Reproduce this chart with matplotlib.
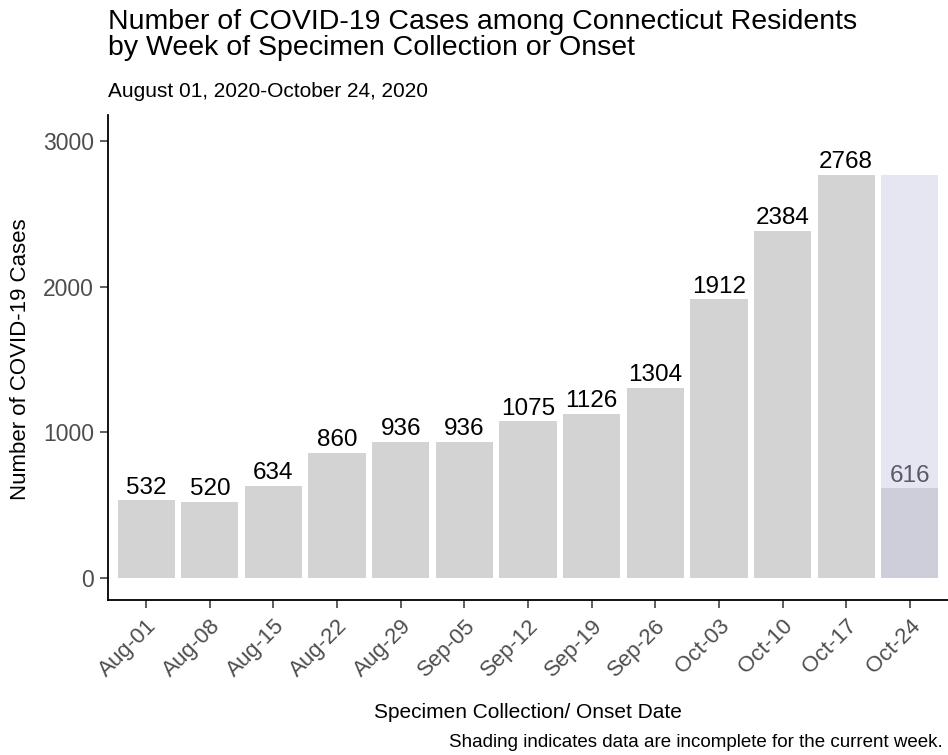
import numpy as np
import matplotlib
matplotlib.use("Agg")
import matplotlib.pyplot as plt

plt.rcParams['font.family'] = ['Liberation Sans', 'DejaVu Sans']

weeks = ["Aug-01", "Aug-08", "Aug-15", "Aug-22", "Aug-29", "Sep-05", "Sep-12",
         "Sep-19", "Sep-26", "Oct-03", "Oct-10", "Oct-17", "Oct-24"]
cases = [532, 520, 634, 860, 936, 936, 1075, 1126, 1304, 1912, 2384, 2768, 616]
yticks = [0, 1000, 2000, 3000]

W, H = 948, 755
fig = plt.figure(figsize=(W / 100, H / 100), dpi=100)
ax = fig.add_axes([108 / W, (H - 600) / H, (W - 108) / W, (600 - 115) / H])

x = np.arange(1, len(weeks) + 1)
ax.bar(x, cases, width=0.9, color="#d3d3d3", zorder=2)
for xi, v in zip(x, cases):
    ax.text(xi, v + 12, str(v), ha="center", va="bottom", fontsize=17.5,
            color="black", zorder=3)

# shading for the incomplete current week
ax.bar(x[-1], max(cases), width=0.9, color="#c8c8e6", alpha=0.45, zorder=4)

ax.set_xlim(0.4, 13.6)
ax.set_ylim(-151, 3178)
ax.set_yticks(yticks)
ax.set_xticks(x)
ax.set_xticklabels(weeks, rotation=45, ha="right", rotation_mode="anchor")
ax.tick_params(axis="both", colors="#333333", labelcolor="#4d4d4d",
               labelsize=16.5, length=6, width=1.1)
ax.tick_params(axis="x", labelsize=16, pad=5)
ax.tick_params(axis="y", pad=4)
for s in ["top", "right"]:
    ax.spines[s].set_visible(False)
for s in ["left", "bottom"]:
    ax.spines[s].set_linewidth(1.3)
    ax.spines[s].set_color("black")

fig.text(528 / W, 1 - 718 / H, "Specimen Collection/ Onset Date",
         ha="center", va="baseline", fontsize=15)
fig.text(21 / W, 1 - 359 / H, "Number of COVID-19 Cases", rotation=90,
         ha="center", va="center", fontsize=16)

fig.text(108 / W, 1 - 9 / H,
         "Number of COVID-19 Cases among Connecticut Residents\nby Week of Specimen Collection or Onset",
         ha="left", va="top", fontsize=20.5, linespacing=1.02)
fig.text(108 / W, 1 - 97 / H, "August 01, 2020-October 24, 2020",
         ha="left", va="baseline", fontsize=15)
fig.text(943 / W, 1 - 747 / H,
         "Shading indicates data are incomplete for the current week.",
         ha="right", va="baseline", fontsize=13.5)

fig.savefig("out.png", dpi=100)
